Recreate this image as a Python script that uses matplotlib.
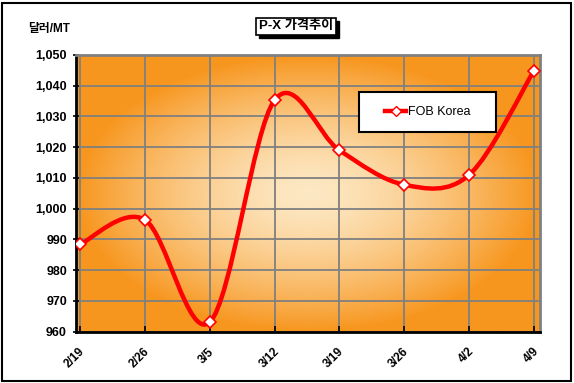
import numpy as np
import matplotlib
matplotlib.use('Agg')
import matplotlib.pyplot as plt
from matplotlib.path import Path
from matplotlib.patches import PathPatch, Rectangle
from matplotlib.lines import Line2D
import matplotlib.transforms as mtransforms

plt.rcParams['font.family'] = ['Liberation Sans', 'Noto Sans CJK KR', 'DejaVu Sans']

dates = ['2/19', '2/26', '3/5', '3/12', '3/19', '3/26', '4/2', '4/9']
fob_korea = [988.4, 996.4, 963.1, 1035.3, 1019.0, 1007.8, 1011.0, 1044.9]
y_ticks = [960, 970, 980, 990, 1000, 1010, 1020, 1030, 1040, 1050]

W, H = 574, 383
fig = plt.figure(figsize=(W / 100, H / 100), dpi=100)
fig.patch.set_facecolor('white')
ax = fig.add_axes([76 / W, 1 - 331.7 / H, (540 - 76) / W, (331.7 - 55) / H])

# radial orange background (Excel "from center" gradient)
n = 300
u, v = np.meshgrid(np.linspace(-1, 1, n), np.linspace(-1, 1, n))
t = np.clip(np.sqrt(u ** 2 + v ** 2), 0, 1) ** 1.5
centre = np.array([253, 232, 196]) / 255
edge = np.array([247, 150, 30]) / 255
img = centre[None, None, :] * (1 - t[..., None]) + edge[None, None, :] * t[..., None]
ax.imshow(img, extent=[0, 1, 0, 1], transform=ax.transAxes, aspect='auto', zorder=0)

x = np.arange(len(dates))
y = np.array(fob_korea)

# smoothed line like Excel (Catmull-Rom bezier)
pts = np.column_stack([x, y]).astype(float)
verts = [pts[0]]
codes = [Path.MOVETO]
for i in range(len(pts) - 1):
    p0 = pts[i - 1] if i > 0 else pts[i]
    p1 = pts[i]
    p2 = pts[i + 1]
    p3 = pts[i + 2] if i + 2 < len(pts) else pts[i + 1]
    verts += [p1 + (p2 - p0) / 6, p2 - (p3 - p1) / 6, p2]
    codes += [Path.CURVE4] * 3
ax.add_patch(PathPatch(Path(verts, codes), fill=False, edgecolor='#FF0000', lw=3.2, zorder=3,
                       capstyle='round', joinstyle='round'))
ax.plot(x, y, linestyle='none', marker='D', markersize=6, markerfacecolor='white',
        markeredgecolor='#FF0000', markeredgewidth=1.2, zorder=4)

ax.set_xlim(-4 / 64.86, 7 + 6 / 64.86)
ax.set_ylim(960, 1050)
ax.set_xticks(x)
ax.set_xticklabels(dates, rotation=45, ha='right', fontsize=8.5, fontweight='bold')
ax.set_yticks(y_ticks)
ax.set_yticklabels(['{:,}'.format(v) for v in y_ticks], fontsize=9, fontweight='bold')
ax.tick_params(axis='x', direction='in', length=4, width=1.2, pad=10)
ax.tick_params(axis='y', direction='inout', length=5, width=1.2, pad=4)
ax.grid(True, color='#808080', lw=1.3)
ax.set_axisbelow(True)
for s in ['top', 'right']:
    ax.spines[s].set_color('#808080')
    ax.spines[s].set_linewidth(2)
for s in ['left', 'bottom']:
    ax.spines[s].set_color('black')
    ax.spines[s].set_linewidth(2)

# shift x labels slightly right
offset = mtransforms.ScaledTranslation(7 / 100, 0, fig.dpi_scale_trans)
for lab in ax.get_xticklabels():
    lab.set_transform(lab.get_transform() + offset)

# legend box
lx0, lx1 = (359 - 76) / 464, (496 - 76) / 464
ly0, ly1 = (331.7 - 132) / 276.7, (331.7 - 92) / 276.7
ax.add_patch(Rectangle((lx0, ly0), lx1 - lx0, ly1 - ly0, transform=ax.transAxes,
                       facecolor='white', edgecolor='black', lw=1.5, zorder=5))
handle = Line2D([], [], color='#FF0000', lw=3.2, marker='D', markersize=5,
                markerfacecolor='white', markeredgecolor='#FF0000')
leg = ax.legend([handle], ['FOB Korea'], loc='center', bbox_to_anchor=((lx0 + lx1) / 2, (ly0 + ly1) / 2),
                frameon=False, fontsize=9, handlelength=1.7, handletextpad=0.1)
leg.set_zorder(6)

# title box with drop shadow
title = fig.text(296 / W, 1 - 26.5 / H, 'P-X 가격추이', ha='center', va='center',
                 fontsize=9.5, fontweight='bold', zorder=3,
                 bbox=dict(boxstyle='square,pad=0.2', fc='white', ec='black', lw=1.2))
fig.canvas.draw()
bb = title.get_bbox_patch().get_window_extent()
fig.patches.append(Rectangle((bb.x0 + 3, bb.y0 - 3), bb.width, bb.height, transform=None,
                             facecolor='black', edgecolor='black', zorder=1))

fig.text(49 / W, 1 - 29 / H, '달러/MT', ha='center', va='center', fontsize=8.5, fontweight='bold')

fig.patches.append(Rectangle((2 / W, 2 / H), (W - 5) / W, (H - 5) / H, transform=fig.transFigure,
                             fill=False, edgecolor='black', lw=1.5))

fig.savefig('out.png', dpi=100)
